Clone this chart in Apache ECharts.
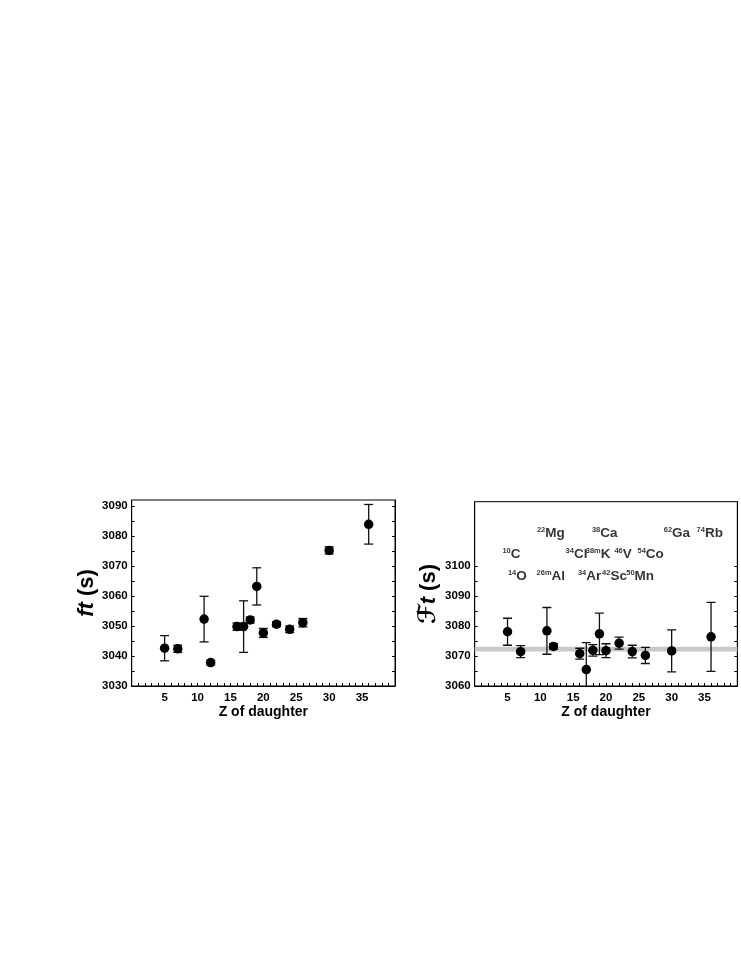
<!DOCTYPE html>
<html><head><meta charset="utf-8">
<script src="https://cdn.jsdelivr.net/npm/echarts@6/dist/echarts.min.js"></script>
<style>html,body{margin:0;padding:0;background:#fff}#c{width:741px;height:959px}</style>
</head><body><div id="c"></div>
<script>
// ---- data ----
const zDaughter = [5, 7, 11, 12, 16, 17, 18, 19, 20, 22, 24, 26, 30, 36];
const ftValues  = [3042.6, 3042.4, 3052.3, 3037.8, 3049.8, 3049.8, 3052.0, 3063.2, 3047.7, 3050.6, 3048.9, 3051.1, 3075.2, 3083.9];
const ftErrors  = [4.2, 1.2, 7.6, 0.8, 1.2, 8.6, 1.0, 6.2, 1.5, 0.8, 1.1, 1.4, 1.2, 6.6];
const FtValues  = [3078.1, 3071.45, 3078.4, 3073.2, 3070.8, 3065.5, 3071.9, 3077.4, 3071.8, 3074.3, 3071.5, 3070.2, 3071.7, 3076.4];
const FtErrors  = [4.5, 2.0, 7.8, 0.9, 1.8, 9.0, 1.9, 6.9, 2.3, 2.0, 2.1, 2.7, 7.0, 11.5];
const FtBand    = [3071.5, 3073.1];
const nuclideMass = ['22', '38', '62', '74', '10', '34', '38m', '46', '54', '14', '26m', '34', '42', '50'];
const nuclideElem = ['Mg', 'Ca', 'Ga', 'Rb', 'C', 'Cl', 'K', 'V', 'Co', 'O', 'Al', 'Ar', 'Sc', 'Mn'];
const nuclideLabelZ = [11.6, 19.8, 30.8, 35.8, 5.6, 15.5, 18.8, 22.6, 26.8, 6.5, 11.6, 17.5, 21.3, 25.2];
const nuclideLabelRow = [3110.8, 3110.8, 3110.8, 3110.8, 3103.8, 3103.8, 3103.8, 3103.8, 3103.8, 3096.6, 3096.6, 3096.6, 3096.6, 3096.6];
const xTickLabels = [5, 10, 15, 20, 25, 30, 35];
const xTickMarks = [1,2,3,4,5,6,7,8,9,10,11,12,13,14,15,16,17,18,19,20,21,22,23,24,25,26,27,28,29,30,31,32,33,34,35,36,37,38,39];
const ftTickLabels = [3030, 3040, 3050, 3060, 3070, 3080, 3090];
const ftTickMarks = [3030, 3035, 3040, 3045, 3050, 3055, 3060, 3065, 3070, 3075, 3080, 3085, 3090];
const FtTickLabels = [3060, 3070, 3080, 3090, 3100];
const FtTickMarks = [3060, 3065, 3070, 3075, 3080, 3085, 3090, 3095, 3100];

// ---- chart ----
const FONT = "'Liberation Sans', Arial, sans-serif";
const chart = echarts.init(document.getElementById('c'), null, {renderer: 'canvas'});

function errRender(params, api) {
  const x = api.value(0), y = api.value(1), e = api.value(2);
  const t = api.coord([x, y + e]);
  const b = api.coord([x, y - e]);
  const cap = 4.5;
  const st = {stroke: '#111', lineWidth: 1.3};
  return {type: 'group', children: [
    {type: 'line', shape: {x1: t[0], y1: t[1], x2: b[0], y2: b[1]}, style: st},
    {type: 'line', shape: {x1: t[0] - cap, y1: t[1], x2: t[0] + cap, y2: t[1]}, style: st},
    {type: 'line', shape: {x1: b[0] - cap, y1: b[1], x2: b[0] + cap, y2: b[1]}, style: st}
  ]};
}

const labelStyle = {fontFamily: FONT, fontWeight: 'bold', fontSize: 11.5, color: '#000', formatter: v => String(v)};

function xAxis(gi) {
  return {
    type: 'value', gridIndex: gi, min: 0, max: 40,
    axisLine: {show: true, lineStyle: {color: '#000', width: 1}},
    axisTick: {show: true, inside: true, length: 3, customValues: xTickMarks, lineStyle: {color: '#000'}},
    axisLabel: Object.assign({customValues: xTickLabels, margin: 6}, labelStyle),
    splitLine: {show: false},
    name: 'Z of daughter', nameLocation: 'middle', nameGap: 19,
    nameTextStyle: {fontFamily: FONT, fontWeight: 'bold', fontSize: 14, color: '#000'}
  };
}
function yAxis(gi, min, max, marks, labels, name, rich, gap) {
  return {
    type: 'value', gridIndex: gi, min: min, max: max, position: 'left',
    axisLine: {show: true, lineStyle: {color: '#000', width: 1}},
    axisTick: {show: true, inside: true, length: 3, customValues: marks, lineStyle: {color: '#000'}},
    axisLabel: Object.assign({customValues: labels, margin: 4}, labelStyle),
    splitLine: {show: false},
    name: name, nameLocation: 'middle', nameGap: gap, nameRotate: 90,
    nameTextStyle: {rich: rich}
  };
}
function yMirror(gi, min, max, marks) {
  return {
    type: 'value', gridIndex: gi, min: min, max: max, position: 'right',
    axisLine: {show: true, lineStyle: {color: '#000', width: 1}},
    axisTick: {show: true, inside: true, length: 3, customValues: marks, lineStyle: {color: '#000'}},
    axisLabel: {show: false}, splitLine: {show: false}
  };
}

const richLeft = {
  i: {fontFamily: FONT, fontStyle: 'italic', fontWeight: 'bold', fontSize: 22, color: '#000'},
  n: {fontFamily: FONT, fontWeight: 'bold', fontSize: 22, color: '#000'}
};
const richRight = {
  f: {fontFamily: "'DejaVu Serif', 'DejaVu Sans', serif", fontStyle: 'italic', fontWeight: 'bold', fontSize: 24, color: '#000'},
  i: {fontFamily: FONT, fontStyle: 'italic', fontWeight: 'bold', fontSize: 22, color: '#000'},
  n: {fontFamily: FONT, fontWeight: 'bold', fontSize: 22, color: '#000'}
};

const leftData = zDaughter.map((z, i) => [z, ftValues[i], ftErrors[i]]);
const rightData = zDaughter.map((z, i) => [z, FtValues[i], FtErrors[i]]);
const labelData = nuclideElem.map((el, i) => ({
  value: [nuclideLabelZ[i], nuclideLabelRow[i]],
  label: {formatter: '{s|' + nuclideMass[i] + '}{e|' + el + '}'}
}));

const dotStyle = {color: '#000', opacity: 1};

chart.setOption({
  animation: false,
  backgroundColor: '#fff',
  grid: [
    {left: 131.7, right: 346, top: 500, bottom: 273, show: true, borderColor: '#000', borderWidth: 1, backgroundColor: 'transparent'},
    {left: 474.7, right: 3.7, top: 501.7, bottom: 273, show: true, borderColor: '#000', borderWidth: 1, backgroundColor: 'transparent'}
  ],
  xAxis: [xAxis(0), xAxis(1)],
  yAxis: [
    yAxis(0, 3030, 3092, ftTickMarks, ftTickLabels, '{i|ft}{n| (s)}', richLeft, 33),
    yMirror(0, 3030, 3092, ftTickMarks),
    yAxis(1, 3060, 3121.5, FtTickMarks, FtTickLabels, '{f|\u2131}{i|t}{n| (s)}', richRight, 31),
    yMirror(1, 3060, 3121.5, FtTickMarks)
  ],
  series: [
    {type: 'custom', xAxisIndex: 0, yAxisIndex: 0, renderItem: errRender, data: leftData, clip: true, z: 2},
    {type: 'scatter', xAxisIndex: 0, yAxisIndex: 0, data: leftData, symbol: 'circle', symbolSize: 9.5,
      itemStyle: dotStyle, z: 3},
    {type: 'custom', xAxisIndex: 1, yAxisIndex: 2, renderItem: errRender, data: rightData, clip: true, z: 2,
      markArea: {silent: true, itemStyle: {color: '#c9c9c9', opacity: 1}, z: 1,
        data: [[{yAxis: FtBand[0], xAxis: 0}, {yAxis: FtBand[1], xAxis: 40}]]}},
    {type: 'scatter', xAxisIndex: 1, yAxisIndex: 2, data: rightData, symbol: 'circle', symbolSize: 9.5,
      itemStyle: dotStyle, z: 3},
    {type: 'scatter', xAxisIndex: 1, yAxisIndex: 2, data: labelData, symbolSize: 0, silent: true,
      label: {show: true, position: 'inside',
        rich: {
          s: {fontFamily: FONT, fontWeight: 'bold', fontSize: 7.5, color: '#000', verticalAlign: 'top', lineHeight: 8},
          e: {fontFamily: FONT, fontWeight: 'bold', fontSize: 13.5, color: '#000', lineHeight: 15}
        }}, z: 4}
  ]
});
</script></body></html>
